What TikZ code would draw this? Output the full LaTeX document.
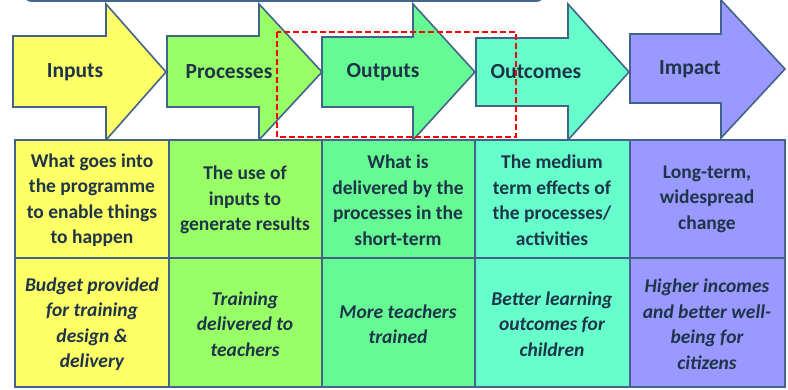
\documentclass[tikz,border=0pt]{standalone}
\usepackage{fontspec}
\setmainfont{Carlito}
\definecolor{cin}{HTML}{FFFF66}
\definecolor{cpr}{HTML}{99FF66}
\definecolor{cou}{HTML}{66FA94}
\definecolor{coc}{HTML}{66FFCC}
\definecolor{cim}{HTML}{9999FF}
\definecolor{edge}{HTML}{42648A}
\definecolor{ink}{HTML}{1E3448}
\begin{document}
\begin{tikzpicture}[x=1pt,y=-1pt,
  arr/.style={draw=edge,line width=1.6pt,line join=miter},
  cell/.style={draw=edge,line width=1.6pt},
  albl/.style={font=\fontsize{21.5}{24}\selectfont\bfseries,text=ink},
  ctxt/.style={font=\fontsize{19.5}{25.5}\selectfont\bfseries,text=ink,align=center},
  itxt/.style={font=\fontsize{19.5}{25.5}\selectfont\bfseries\itshape,text=ink,align=center}]
\useasboundingbox (0,0) rectangle (788,389);
% partial shape at top
\draw[edge,line width=1.6pt,rounded corners=6pt] (25,-30) -- (25,1) -- (543,1) -- (543,-30);
% arrows
\newcommand{\arrowshape}[6]{% x0, headx, tip, top, bot, fill
  \filldraw[arr,fill=#6] (#1,#4) -- (#2,#4) -- (#2,4) -- (#3,72) -- (#2,140) -- (#2,#5) -- (#1,#5) -- cycle;}
\arrowshape{13}{106}{166}{36}{107}{cin}
\arrowshape{167}{259}{322}{36}{107}{cpr}
\arrowshape{322}{413}{475}{37}{107}{cou}
\arrowshape{476}{568}{629}{38}{106}{coc}
\filldraw[arr,fill=cim] (630,34) -- (721,34) -- (721,0) -- (785,69) -- (721,138) -- (721,103) -- (630,103) -- cycle;
\node[albl] (lin) at (75,72) {Inputs};
\node[albl] (lpr) at (229,72) {Processes};
\node[albl] (lou) at (383,72) {Outputs};
\node[albl] (loc) at (536,72) {Outcomes};
\node[albl] (lim) at (690,69) {Impact};
% table
\filldraw[cell,fill=cin] (15,140) rectangle (169,258);
\filldraw[cell,fill=cpr] (169,140) rectangle (322,258);
\filldraw[cell,fill=cou] (322,140) rectangle (475,258);
\filldraw[cell,fill=coc] (475,140) rectangle (630,258);
\filldraw[cell,fill=cim] (630,140) rectangle (785,258);
\filldraw[cell,fill=cin] (15,258) rectangle (169,387);
\filldraw[cell,fill=cpr] (169,258) rectangle (322,387);
\filldraw[cell,fill=cou] (322,258) rectangle (475,387);
\filldraw[cell,fill=coc] (475,258) rectangle (630,387);
\filldraw[cell,fill=cim] (630,258) rectangle (785,387);
\node[ctxt] (d1) at (92,200) {What goes into\\the programme\\to enable things\\to happen};
\node[ctxt] (d2) at (245,200) {The use of\\inputs to\\generate results};
\node[ctxt] (d3) at (398,200) {What is\\delivered by the\\processes in the\\short-term};
\node[ctxt] (d4) at (552,200) {The medium\\term effects of\\the processes/\\activities};
\node[ctxt] (d5) at (707,199) {Long-term,\\widespread\\change};
\node[itxt] (e1) at (92,324) {Budget provided\\for training\\design \&\\delivery};
\node[itxt] (e2) at (245,324) {Training\\delivered to\\teachers};
\node[itxt] (e3) at (398,324) {More teachers\\trained};
\node[itxt] (e4) at (552,324) {Better learning\\outcomes for\\children};
\node[itxt] (e5) at (707,324) {Higher incomes\\and better well-\\being for\\citizens};
% dashed highlight
\draw[red,line width=1.8pt,dash pattern=on 6pt off 3pt] (277,32) rectangle (516,137);
\end{tikzpicture}
\end{document}
